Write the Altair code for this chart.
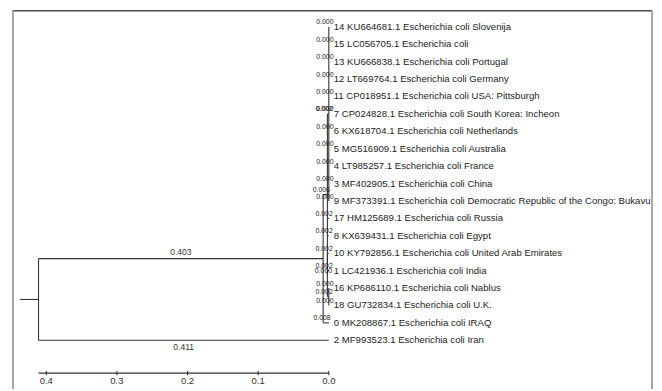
import altair as alt
import pandas as pd

# ---------------- data ----------------
leaf_labels = [
    "14 KU664681.1 Escherichia coli Slovenija",
    "15 LC056705.1 Escherichia coli",
    "13 KU666838.1 Escherichia coli Portugal",
    "12 LT669764.1 Escherichia coli Germany",
    "11 CP018951.1 Escherichia coli USA: Pittsburgh",
    "7 CP024828.1 Escherichia coli South Korea: Incheon",
    "6 KX618704.1 Escherichia coli Netherlands",
    "5 MG516909.1 Escherichia coli Australia",
    "4 LT985257.1 Escherichia coli France",
    "3 MF402905.1 Escherichia coli China",
    "9 MF373391.1 Escherichia coli Democratic Republic of the Congo: Bukavu",
    "17 HM125689.1 Escherichia coli Russia",
    "8 KX639431.1 Escherichia coli Egypt",
    "10 KY792856.1 Escherichia coli United Arab Emirates",
    "1 LC421936.1 Escherichia coli India",
    "16 KP686110.1 Escherichia coli Nablus",
    "18 GU732834.1 Escherichia coli U.K.",
    "0 MK208867.1 Escherichia coli IRAQ",
    "2 MF993523.1 Escherichia coli Iran",
]

# tree topology: (child, branch length); child is a leaf row index or a clade list
clade_C = [(0, 0.000), (1, 0.000), (2, 0.000), (3, 0.000), (4, 0.000), (5, 0.000),
           (6, 0.000), (7, 0.000), (8, 0.000), (9, 0.000), (10, 0.000)]
clade_G = [(15, 0.000), (16, 0.000)]
clade_F = [(13, 0.002), (14, 0.002), (clade_G, 0.002)]
clade_B = [(clade_C, 0.002), (11, 0.002), (12, 0.002), (clade_F, 0.000)]
clade_A = [(clade_B, 0.006), (17, 0.008)]
root = [(clade_A, 0.403), (18, 0.411)]

scale_ticks = [0.4, 0.3, 0.2, 0.1, 0.0]
scale_labels = ["0.4", "0.3", "0.2", "0.1", "0.0"]

# ---------------- layout from topology ----------------
segs = []
blabels = []
leaf_pos = {}


def layout(node, dist):
    if isinstance(node, int):
        leaf_pos[node] = dist
        return float(node)
    kids = []
    for child, bl in node:
        cd = dist + bl
        cy = layout(child, cd)
        kids.append((cy, cd, bl))
    y = (kids[0][0] + kids[-1][0]) / 2.0
    segs.append(dict(a=dist, b=dist, y=kids[0][0], y2=kids[-1][0]))
    for cy, cd, bl in kids:
        segs.append(dict(a=dist, b=cd, y=cy, y2=cy))
        blabels.append(dict(a=dist, b=cd, y=cy, bl=bl, below=cy > y))
    return y


root_y = layout(root, 0.0)
tip = max(leaf_pos.values())

seg_df = pd.DataFrame(segs)
seg_df["x"] = tip - seg_df["a"]
seg_df["x2"] = tip - seg_df["b"]
seg_df = pd.concat([seg_df, pd.DataFrame([dict(x=tip + 0.026, x2=tip, y=root_y, y2=root_y)])],
                   ignore_index=True)

lab_df = pd.DataFrame(blabels)
lab_df["x"] = tip - (lab_df["a"] + lab_df["b"]) / 2.0
lab_df["text"] = lab_df["bl"].map(lambda v: f"{v:.3f}")
long_up = lab_df[(lab_df["bl"] > 0.05) & (~lab_df["below"])]
long_dn = lab_df[(lab_df["bl"] > 0.05) & (lab_df["below"])]
short = lab_df[lab_df["bl"] <= 0.05]

leaf_df = pd.DataFrame(dict(
    y=list(range(len(leaf_labels))),
    x=[tip - leaf_pos[i] for i in range(len(leaf_labels))],
    text=leaf_labels,
))

axis_y = 19.886
axis_line = pd.DataFrame([dict(x=tip, x2=0.0, y=axis_y, y2=axis_y)])
tick_df = pd.DataFrame(dict(x=scale_ticks, y=[axis_y - 0.12] * 5, y2=[axis_y + 0.12] * 5,
                            text=scale_labels, ly=[axis_y + 0.48] * 5))

# ---------------- chart ----------------
W, H = 648, 383
xs = alt.Scale(domain=[-0.4604, 0.4472], reverse=True, nice=False, zero=False)
ys = alt.Scale(domain=[-0.966, 20.795], reverse=True, nice=False, zero=False)
LINE = "#333333"
FONT = "Liberation Sans"


def X(f="x"):
    return alt.X(f"{f}:Q", scale=xs, axis=None)


def Y(f="y"):
    return alt.Y(f"{f}:Q", scale=ys, axis=None)


tree = alt.Chart(seg_df).mark_rule(color=LINE, strokeWidth=1.1).encode(
    x=X(), x2="x2:Q", y=Y(), y2="y2:Q")

lab_up = alt.Chart(long_up).mark_text(font=FONT, fontSize=8.6, color="#333", baseline="middle",
                                      align="center", dy=-7).encode(x=X(), y=Y(), text="text:N")
lab_dn = alt.Chart(long_dn).mark_text(font=FONT, fontSize=8.6, color="#333", baseline="middle",
                                      align="center", dy=7).encode(x=X(), y=Y(), text="text:N")
lab_sm = alt.Chart(short).mark_text(font=FONT, fontSize=7, color="#222", baseline="middle",
                                    align="center", dx=-4, dy=-4.5).encode(x=X(), y=Y(), text="text:N")

leaves = alt.Chart(leaf_df).mark_text(font=FONT, fontSize=9.7, color="#222", baseline="middle",
                                      align="left", dx=5).encode(x=X(), y=Y(), text="text:N")

ax_line = alt.Chart(axis_line).mark_rule(color=LINE, strokeWidth=1.1).encode(
    x=X(), x2="x2:Q", y=Y(), y2="y2:Q")
ax_ticks = alt.Chart(tick_df).mark_rule(color=LINE, strokeWidth=1.1).encode(
    x=X(), y=Y(), y2="y2:Q")
ax_labels = alt.Chart(tick_df).mark_text(font=FONT, fontSize=9.6, color="#333", baseline="middle",
                                         align="center").encode(x=X(), y=Y("ly"), text="text:N")

frame_df = pd.DataFrame([dict(k=1)])
frame_top = alt.Chart(frame_df).mark_rule(color="#4a4a4a", strokeWidth=1.5).encode(
    x=alt.value(0), x2=alt.value(646), y=alt.value(0.8), y2=alt.value(0.8))
frame_left = alt.Chart(frame_df).mark_rule(color="#8a8a8a", strokeWidth=1.5).encode(
    x=alt.value(0), x2=alt.value(0), y=alt.value(0), y2=alt.value(H))
frame_right = alt.Chart(frame_df).mark_rule(color="#8a8a8a", strokeWidth=1.5).encode(
    x=alt.value(646), x2=alt.value(646), y=alt.value(0), y2=alt.value(H))

chart = alt.layer(
    frame_top, frame_left, frame_right,
    tree, lab_up, lab_dn, lab_sm, leaves, ax_line, ax_ticks, ax_labels,
).properties(
    width=W, height=H,
    padding={"left": 5, "top": 0, "right": 0, "bottom": 0},
    autosize=alt.AutoSizeParams(type="none"),
    background="white",
).configure_view(stroke=None)

chart.save("out.html", embed_options={"renderer": "svg", "actions": False})
